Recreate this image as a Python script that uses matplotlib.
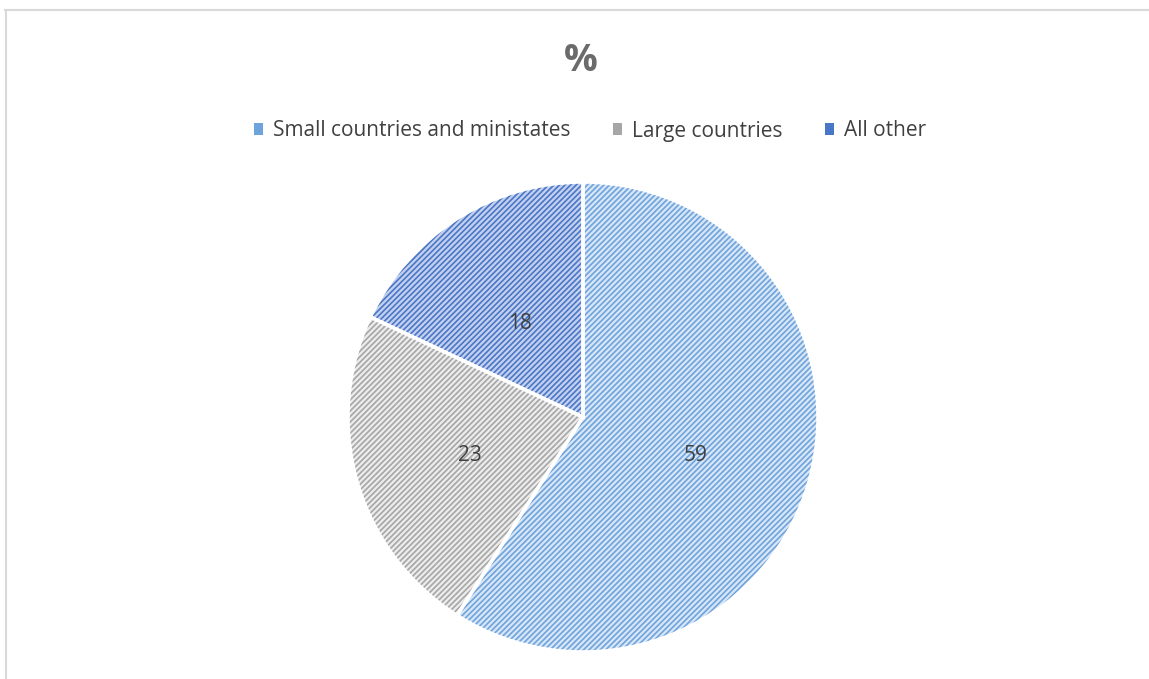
import matplotlib.pyplot as plt
from matplotlib.lines import Line2D
from matplotlib.patches import Patch, Wedge

labels = ["Small countries and ministates", "Large countries", "All other"]
values = [59, 23, 18]
face_colors = ["#d6e6f7", "#ececec", "#c3d1ee"]
hatch_colors = ["#6fa3dc", "#a6a6a6", "#4a76c8"]

plt.rcParams["font.family"] = ["Open Sans", "DejaVu Sans"]
plt.rcParams["hatch.linewidth"] = 1.2

fig = plt.figure(figsize=(11.49, 6.79), dpi=100)
W, H = 1149, 679

# chart border (cut off at right and bottom)
fig.add_artist(Line2D([5 / W, 1], [1 - 10 / H, 1 - 10 / H], color="#d9d9d9", lw=1.5))
fig.add_artist(Line2D([6 / W, 6 / W], [0, 1 - 10 / H], color="#d9d9d9", lw=1.5))

# pie axes: center (583, 417), radius 235
r = 235
ax = fig.add_axes([(583 - r) / W, 1 - (417 + r) / H, 2 * r / W, 2 * r / H])
wedges, texts = ax.pie(values, labels=[str(v) for v in values], startangle=90,
                       counterclock=False, labeldistance=0.5,
                       colors=face_colors,
                       wedgeprops=dict(edgecolor="white", linewidth=2.5),
                       textprops=dict(fontsize=15, color="#404040"))
# hatch layer on top, then white borders again
for w, hc in zip(wedges, hatch_colors):
    ax.add_patch(Wedge(w.center, w.r, w.theta1, w.theta2, facecolor="none",
                       edgecolor=hc, hatch="//////", linewidth=0, zorder=2))
    ax.add_patch(Wedge(w.center, w.r, w.theta1, w.theta2, facecolor="none",
                       edgecolor="white", linewidth=2.5, zorder=3))
for t in texts:
    t.set_zorder(5)
    t.set_ha("center")
    x, y = t.get_position()
    t.set_position((x, y - 0.025))  # excel sits labels a bit lower
ax.set_xlim(-1, 1)
ax.set_ylim(-1, 1)
ax.set_aspect("equal")

fig.text(581 / W, 1 - 61 / H, "%", ha="center", va="center", fontsize=27,
         fontweight="bold", color="#6b6b6b")

handles = [Patch(facecolor=hc, edgecolor="none") for hc in hatch_colors]
fig.legend(handles, labels, loc="center", bbox_to_anchor=(590 / W, 1 - 131 / H),
           ncol=3, frameon=False, fontsize=15, handlelength=0.45, handleheight=0.45,
           handletextpad=0.5, columnspacing=2.0, labelcolor="#404040")

fig.savefig("out.png", dpi=100)
